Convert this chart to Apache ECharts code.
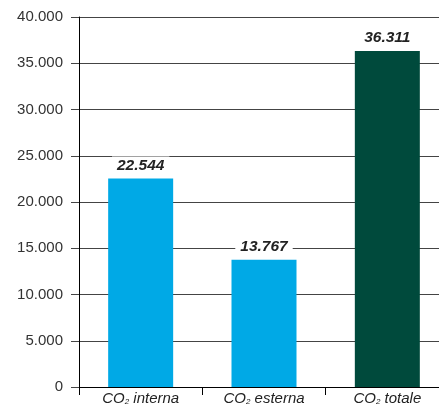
<!DOCTYPE html>
<html><head><meta charset="utf-8">
<script src="https://cdn.jsdelivr.net/npm/echarts@6/dist/echarts.min.js"></script>
<style>html,body{margin:0;padding:0;background:#fff}#c{width:439px;height:408px}</style>
</head><body><div id="c"></div>
<script>
const categories = ['interna', 'esterna', 'totale'];
const values = [22544, 13767, 36311];
const barColors = ['#00a9e6', '#00a9e6', '#004a3c'];
const yTicks = [0, 5000, 10000, 15000, 20000, 25000, 30000, 35000, 40000];

function fmt(v){ return String(v).replace(/\B(?=(\d{3})+(?!\d))/g, '.'); }

const chart = echarts.init(document.getElementById('c'));
chart.setOption({
  animation: false,
  grid: { left: 79, top: 17, height: 370, width: 370, containLabel: false, outerBoundsMode: 'none' },
  xAxis: {
    type: 'category', data: categories,
    axisLine: { lineStyle: { color: '#000', width: 1 } },
    axisTick: { show: true, length: 8, lineStyle: { color: '#000' } },
    axisLabel: {
      margin: 4, interval: 0, hideOverlap: false,
      formatter: function(v){ return '{a|CO}{s|2}{a| ' + v + '}'; },
      rich: {
        a: { fontFamily: 'Liberation Sans, Arial', fontStyle: 'italic', fontSize: 15, color: '#222' },
        s: { fontFamily: 'Liberation Sans, Arial', fontStyle: 'italic', fontSize: 8, color: '#222', verticalAlign: 'bottom', padding: [7,0,0,0] }
      }
    }
  },
  yAxis: {
    type: 'value', min: yTicks[0], max: yTicks[yTicks.length-1], interval: 5000,
    axisLine: { show: true, lineStyle: { color: '#000', width: 1 } },
    axisTick: { show: true, length: 8, lineStyle: { color: '#444' } },
    splitLine: { show: true, lineStyle: { color: '#444', width: 1 } },
    axisLabel: {
      margin: 16, fontFamily: 'Liberation Sans, Arial', fontSize: 15, color: '#333',
      formatter: function(v){ return fmt(v); }
    }
  },
  series: [{
    type: 'bar', barWidth: 65,
    data: values.map((v,i) => ({ value: v, itemStyle: { color: barColors[i] } })),
    label: {
      show: true, position: 'top', distance: 4,
      fontFamily: 'Liberation Sans, Arial', fontStyle: 'italic', fontWeight: 'bold', fontSize: 15.5,
      color: '#222', backgroundColor: '#fff', padding: [1, 5, 1, 5],
      formatter: function(p){ return fmt(p.value); }
    }
  }]
});
</script></body></html>
